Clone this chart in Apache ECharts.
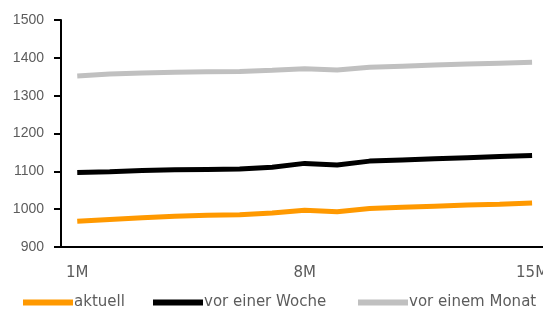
<!DOCTYPE html>
<html><head><meta charset="utf-8">
<script src="https://cdn.jsdelivr.net/npm/echarts@6/dist/echarts.min.js"></script>
<style>html,body{margin:0;padding:0;background:#fff;overflow:hidden}#c{width:551px;height:311px}</style>
</head><body><div id="c"></div>
<script>
const categories = ['1M','2M','3M','4M','5M','6M','7M','8M','9M','10M','11M','12M','13M','14M','15M'];
const aktuell = [968, 973, 977, 981, 984, 985, 990, 997, 993, 1002, 1005, 1008, 1011, 1013, 1016];
const vorWoche = [1097, 1099, 1102, 1104, 1105, 1106, 1111, 1121, 1117, 1127, 1130, 1133, 1136, 1139, 1142];
const vorMonat = [1352, 1357, 1360, 1362, 1363, 1364, 1367, 1371, 1368, 1375, 1378, 1381, 1384, 1386, 1388];
const seriesNames = ['aktuell', 'vor einer Woche', 'vor einem Monat'];
const colors = ['#FF9900', '#000000', '#C0C0C0'];

const chart = echarts.init(document.getElementById('c'), null, {renderer: 'canvas'});
const font = 'Liberation Sans, Arial, sans-serif';
const wideFont = 'DejaVu Sans, sans-serif';
const legendLefts = [18, 148, 353];
chart.setOption({
  animation: false,
  color: colors,
  grid: {left: 61, top: 20, bottom: 64, right: 0, containLabel: false},
  legend: seriesNames.map((n, i) => ({
    top: 290, left: legendLefts[i],
    icon: 'rect', itemWidth: 50, itemHeight: 6,
    textStyle: {color: '#5c5c5c', fontSize: 15, fontFamily: wideFont, padding: [0, 0, 0, -4]},
    data: [n]
  })),
  xAxis: {
    type: 'category', data: categories, boundaryGap: true,
    axisLine: {lineStyle: {color: '#000', width: 2}},
    axisTick: {interval: 6, length: 6, lineStyle: {color: '#000', width: 2}},
    axisLabel: {interval: 6, color: '#5c5c5c', fontSize: 15, fontFamily: wideFont, margin: 19}
  },
  yAxis: {
    type: 'value', min: 900, max: 1500, interval: 100,
    axisLine: {show: true, lineStyle: {color: '#000', width: 2}},
    axisTick: {show: true, length: 7, lineStyle: {color: '#000', width: 2}},
    splitLine: {show: false},
    axisLabel: {color: '#5c5c5c', fontSize: 14, fontFamily: font, margin: 17, formatter: v => String(v)}
  },
  series: [
    {name: seriesNames[0], type: 'line', data: aktuell, symbol: 'none', lineStyle: {width: 5}},
    {name: seriesNames[1], type: 'line', data: vorWoche, symbol: 'none', lineStyle: {width: 5}},
    {name: seriesNames[2], type: 'line', data: vorMonat, symbol: 'none', lineStyle: {width: 5}}
  ]
});
</script></body></html>
